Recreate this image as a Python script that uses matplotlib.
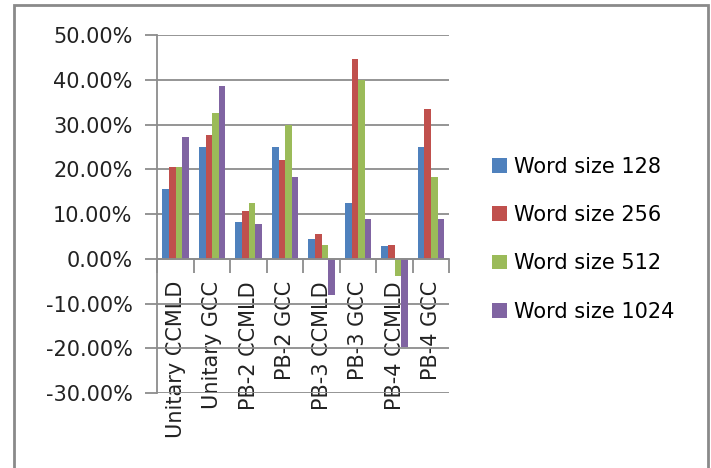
import numpy as np
import matplotlib
matplotlib.use("Agg")
import matplotlib.pyplot as plt
from matplotlib.patches import Rectangle

categories = ["Unitary CCMLD", "Unitary GCC", "PB-2 CCMLD", "PB-2 GCC",
              "PB-3 CCMLD", "PB-3 GCC", "PB-4 CCMLD", "PB-4 GCC"]
series_names = ["Word size 128", "Word size 256", "Word size 512", "Word size 1024"]
ws128 = [15.6, 24.9, 8.2, 24.9, 4.4, 12.5, 2.9, 24.9]
ws256 = [20.5, 27.7, 10.7, 22.2, 5.5, 44.6, 3.2, 33.4]
ws512 = [20.5, 32.5, 12.5, 29.9, 3.2, 40.0, -3.8, 18.2]
ws1024 = [27.2, 38.7, 7.9, 18.2, -8.1, 9.0, -19.6, 9.0]
colors = ["#4F81BD", "#C0504D", "#9BBB59", "#8064A2"]

plt.rcParams["font.family"] = "DejaVu Sans"
fig = plt.figure(figsize=(7.11, 4.68), dpi=100)
ax = fig.add_axes([0.2215, 0.160, 0.4105, 0.765])

x = np.arange(len(categories))
w = 1 / 5.5
for i, (vals, name) in enumerate(zip([ws128, ws256, ws512, ws1024], series_names)):
    ax.bar(x + (i - 1.5) * w, vals, width=w, color=colors[i], label=name, zorder=3)

ax.set_xlim(-0.5, len(categories) - 0.5)
ax.set_ylim(-30, 50)
ax.set_yticks(np.arange(-30, 51, 10))
ax.set_yticklabels(["%.2f%%" % v for v in np.arange(-30, 51, 10)])
ax.yaxis.grid(True, color="#8c8c8c", lw=1.3, zorder=0)

# category ticks at the boundaries, labels at the centres
ax.set_xticks(np.arange(-0.5, len(categories), 1))
ax.set_xticklabels([])
ax.set_xticks(x, minor=True)
ax.set_xticklabels(categories, minor=True)
ax.tick_params(axis="x", which="major", direction="out", length=10, width=1.3, color="#8c8c8c")
ax.tick_params(axis="x", which="minor", length=0, pad=16, labelsize=15,
               labelrotation=90, labelcolor="#222222")
ax.tick_params(axis="y", direction="out", length=9, width=1.3, color="#8c8c8c", pad=9,
               labelsize=15, labelcolor="#222222")
for t in ax.get_xticklabels(minor=True):
    t.set_va("top")
    t.set_ha("center")

for s in ["top", "right"]:
    ax.spines[s].set_visible(False)
ax.spines["bottom"].set_position(("data", 0))
ax.spines["bottom"].set_color("#8c8c8c")
ax.spines["bottom"].set_linewidth(1.3)
ax.spines["bottom"].set_zorder(4)
ax.spines["left"].set_color("#8c8c8c")
ax.spines["left"].set_linewidth(1.3)

fig.legend(loc="center left", bbox_to_anchor=(0.678, 0.489), frameon=False,
           fontsize=15, handlelength=0.7, handleheight=0.7, handletextpad=0.35,
           labelspacing=1.36, borderpad=0)

fig.patches.append(Rectangle((14 / 711, -0.1), (707.5 - 14) / 711, 1.1 - 5 / 468,
                             transform=fig.transFigure, fill=False,
                             edgecolor="#8a8a8a", lw=2, clip_on=False))

fig.savefig("out.png", dpi=100)
